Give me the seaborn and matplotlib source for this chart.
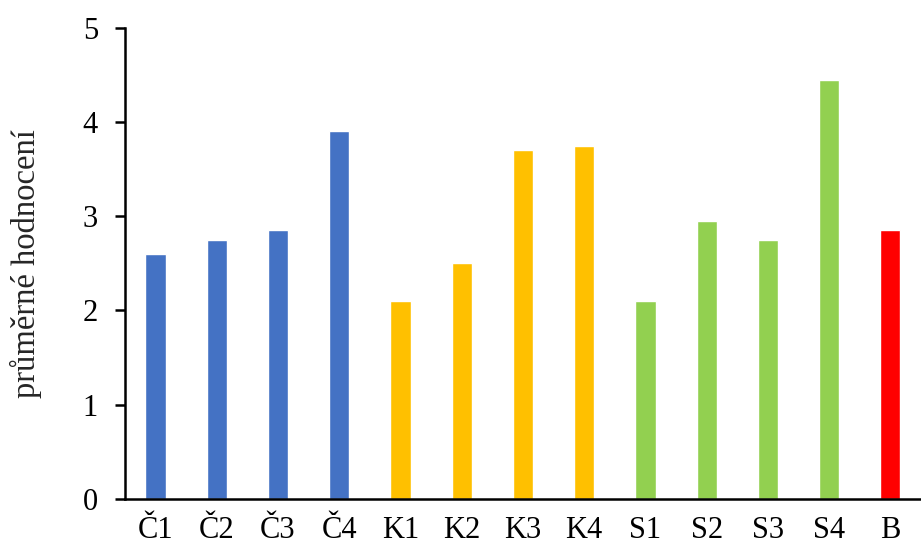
import matplotlib
matplotlib.use("Agg")
import matplotlib.pyplot as plt
import seaborn as sns
import pandas as pd

categories = ["Č1", "Č2", "Č3", "Č4", "K1", "K2", "K3", "K4", "S1", "S2", "S3", "S4", "B"]
values = [2.6, 2.75, 2.85, 3.9, 2.1, 2.5, 3.7, 3.75, 2.1, 2.95, 2.75, 4.45, 2.85]
bar_colors = ["#4472C4"] * 4 + ["#FFC000"] * 4 + ["#92D050"] * 4 + ["#FF0000"]
y_ticks = [0, 1, 2, 3, 4, 5]

sns.set_theme(style="white")
plt.rcParams["font.family"] = "serif"
plt.rcParams["font.serif"] = ["Liberation Serif", "DejaVu Serif"]

df = pd.DataFrame({"kategorie": categories, "hodnota": values})

fig = plt.figure(figsize=(9.21, 5.5), dpi=100)
ax = fig.add_axes([0.1357, 0.0927, 0.8643, 0.8569])

sns.barplot(data=df, x="kategorie", y="hodnota", hue="kategorie",
            palette=bar_colors, width=0.33, saturation=1, legend=False, ax=ax)

ax.set_ylim(0, 5)
ax.set_xlim(-0.5, len(categories) - 0.5)
ax.set_yticks(y_ticks)
ax.set_xlabel("")
ax.set_ylabel("průměrné hodnocení", fontsize=23.5)
ax.yaxis.set_label_coords(-0.104, 0.5)

for side in ["top", "right"]:
    ax.spines[side].set_visible(False)
for side in ["left", "bottom"]:
    ax.spines[side].set_color("black")
    ax.spines[side].set_linewidth(1.8)

ax.tick_params(axis="y", which="major", left=True, direction="out",
               length=7.5, width=1.8, color="black", labelsize=22, pad=12)
ax.tick_params(axis="x", which="major", bottom=False, labelsize=22, pad=6)
for lbl in ax.get_xticklabels() + ax.get_yticklabels():
    lbl.set_color("black")

fig.savefig("out.png", dpi=100, facecolor="white")
